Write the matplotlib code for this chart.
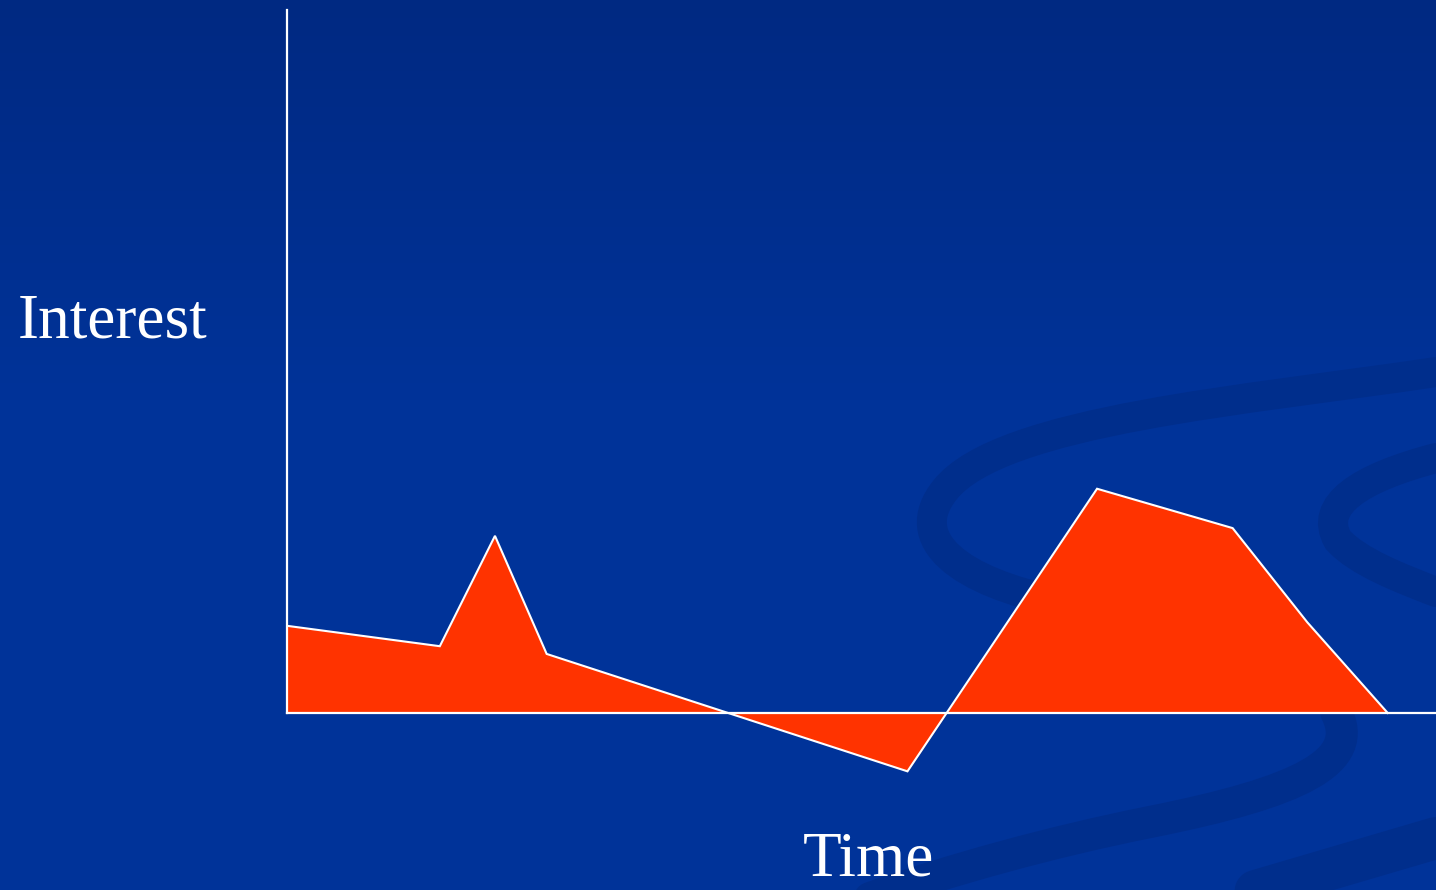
import numpy as np
import matplotlib
matplotlib.use("Agg")
import matplotlib.pyplot as plt
from matplotlib.path import Path
from matplotlib.patches import PathPatch

# Data (time in % of axis width, interest in % of axis height)
time = [0, 13.3, 18.1, 22.6, 54.0, 70.5, 82.3, 88.8, 95.8]
interest = [12.4, 9.5, 25.2, 8.4, -8.3, 31.9, 26.3, 12.9, 0]

x_label = "Time"
y_label = "Interest"

W, H = 1436, 890
fig = plt.figure(figsize=(W / 100, H / 100), dpi=100)

# Slide background: vertical blue gradient + darker swirls
bg = fig.add_axes([0, 0, 1, 1], zorder=0)
bg.set_xlim(0, W)
bg.set_ylim(H, 0)
bg.axis("off")
top = np.array([0, 41, 130]) / 255
mid = np.array([0, 51, 153]) / 255
t = np.clip(np.linspace(0, 1, 200) / 0.45, 0, 1)[:, None]
grad = top * (1 - t) + mid * t
bg.imshow(np.repeat(grad[:, None, :], 2, axis=1), extent=[0, W, H, 0], aspect="auto")

swirl = "#002e8c"
M, C, L = Path.MOVETO, Path.CURVE4, Path.LINETO
bands = [
    ([(1436, 372), (1250, 400), (1000, 420), (945, 490),
      (905, 540), (960, 582), (1060, 602)], [M, C, C, C, C, C, C], 30),
    ([(1336, 712), (1362, 762), (1300, 792), (1150, 822),
      (1050, 842), (950, 870), (870, 898)], [M, C, C, C, C, C, C], 32),
    ([(1436, 458), (1360, 478), (1318, 505), (1338, 540),
      (1358, 562), (1400, 578), (1436, 592)], [M, C, C, C, C, C, C], 30),
    ([(1225, 900), (1436, 838)], [M, L], 42),
]
for verts, codes, w in bands:
    bg.add_patch(PathPatch(Path(verts, codes), facecolor="none", edgecolor=swirl,
                           lw=w * 0.72, capstyle="round"))

# Chart
ax = fig.add_axes([287 / W, 0, 1 - 287 / W, 880 / H], zorder=1)
ax.patch.set_alpha(0)
ax.set_xlim(0, 100)
ax.set_ylim(-25.18, 100)
ax.axis("off")

ax.fill_between(time, interest, 0, interpolate=True, color="#ff3300", lw=0)
ax.plot(time, interest, color="white", lw=1.5, solid_joinstyle="miter")
ax.axhline(0, color="white", lw=1.6, clip_on=False)
ax.plot([0, 0], [0, 100], color="white", lw=1.6, clip_on=False)

fig.text(18 / W, 1 - 337 / H, y_label, family="Liberation Serif", fontsize=45.5,
         color="white", ha="left", va="baseline")
fig.text(869 / W, 1 - 876 / H, x_label, family="Liberation Serif", fontsize=45.5,
         color="white", ha="center", va="baseline")

fig.savefig("out.png", dpi=100)
